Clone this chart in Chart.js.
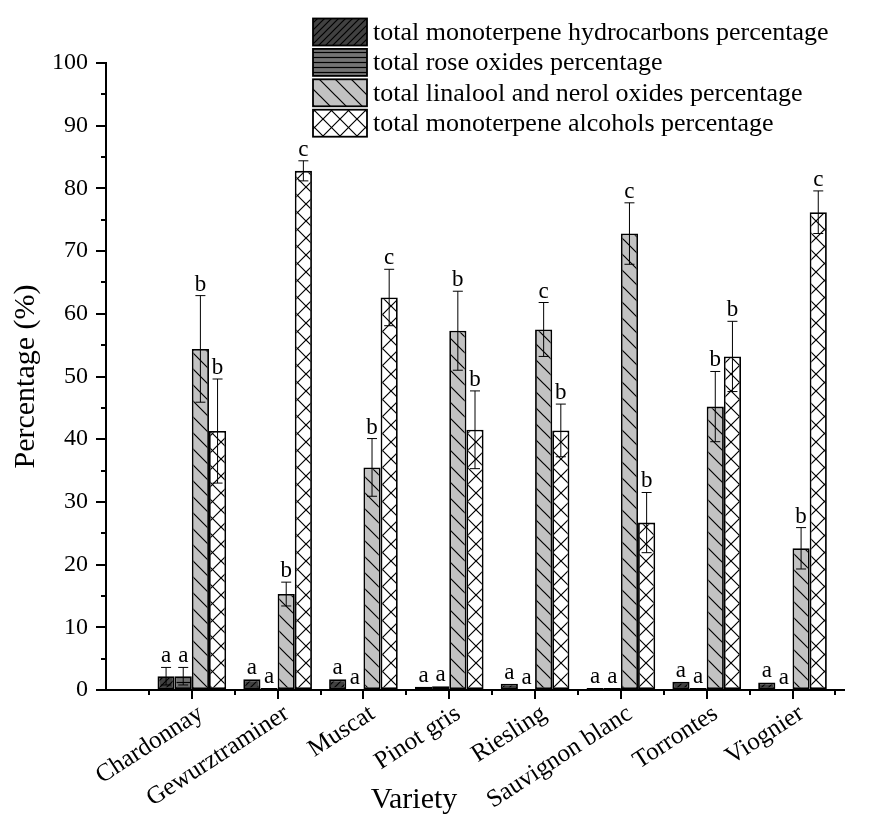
<!DOCTYPE html>
<html>
<head>
<meta charset="utf-8">
<script src="https://cdn.jsdelivr.net/npm/chart.js@4.4.1/dist/chart.umd.min.js"></script>
<style>
html,body{margin:0;padding:0;background:#fff;}
#wrap{width:874px;height:819px;}
</style>
</head>
<body>
<div id="wrap"><canvas id="c" width="874" height="819"></canvas></div>
<script>
// ---------- data ----------
const categories = ["Chardonnay","Gewurztraminer","Muscat","Pinot gris","Riesling","Sauvignon blanc","Torrontes","Viognier"];
const seriesNames = [
  "total monoterpene hydrocarbons percentage",
  "total rose oxides percentage",
  "total linalool and nerol oxides percentage",
  "total monoterpene alcohols percentage"
];
const hydrocarbons      = [2.2, 1.7, 1.7, 0.5, 1.0, 0.3, 1.3, 1.2];
const hydrocarbonsErr   = [1.4, 0, 0, 0, 0, 0, 0, 0];
const hydrocarbonsSig   = ["a","a","a","a","a","a","a","a"];
const roseOxides        = [2.2, 0.3, 0.1, 0.6, 0.1, 0.3, 0.3, 0.1];
const roseOxidesErr     = [1.4, 0, 0, 0, 0, 0, 0, 0];
const roseOxidesSig     = ["a","a","a","a","a","a","a","a"];
const linaloolOxides    = [54.4, 15.3, 35.5, 57.3, 57.5, 72.8, 45.2, 22.6];
const linaloolOxidesErr = [8.5, 1.9, 4.6, 6.3, 4.3, 4.9, 5.6, 3.3];
const linaloolOxidesSig = ["b","b","b","b","c","c","b","b"];
const alcohols          = [41.3, 82.8, 62.6, 41.5, 41.4, 26.7, 53.2, 76.2];
const alcoholsErr       = [8.3, 1.6, 4.5, 6.2, 4.2, 4.8, 5.6, 3.4];
const alcoholsSig       = ["b","c","c","b","b","b","b","c"];
const yTickValues = [0,10,20,30,40,50,60,70,80,90,100];

// ---------- patterns ----------
function makePattern(bg, size, draw) {
  const c = document.createElement('canvas');
  c.width = size; c.height = size;
  const g = c.getContext('2d');
  g.fillStyle = bg; g.fillRect(0, 0, size, size);
  g.strokeStyle = '#000'; g.lineWidth = 1.2;
  draw(g, size);
  return g.createPattern(c, 'repeat');
}
function slash(g, s) {
  g.beginPath();
  g.moveTo(-1, s + 1); g.lineTo(s + 1, -1);
  g.moveTo(-1, 1); g.lineTo(1, -1);
  g.moveTo(s - 1, s + 1); g.lineTo(s + 1, s - 1);
  g.stroke();
}
function backslash(g, s) {
  g.beginPath();
  g.moveTo(-1, -1); g.lineTo(s + 1, s + 1);
  g.moveTo(s - 1, -1); g.lineTo(s + 1, 1);
  g.moveTo(-1, s - 1); g.lineTo(1, s + 1);
  g.stroke();
}
function horiz(g, s) {
  g.beginPath(); g.moveTo(0, s / 2); g.lineTo(s, s / 2); g.stroke();
}
const patterns = [
  makePattern('#414141', 7, slash),
  makePattern('#747474', 5, horiz),
  makePattern('#c2c2c2', 16, backslash),
  makePattern('#ffffff', 17, (g, s) => { backslash(g, s); slash(g, s); })
];

const valueSets = [hydrocarbons, roseOxides, linaloolOxides, alcohols];
const errSets = [hydrocarbonsErr, roseOxidesErr, linaloolOxidesErr, alcoholsErr];
const sigSets = [hydrocarbonsSig, roseOxidesSig, linaloolOxidesSig, alcoholsSig];

const FONT = '"Liberation Serif", "Times New Roman", serif';
Chart.defaults.font.family = FONT;
Chart.defaults.color = '#000';

const datasets = seriesNames.map((name, k) => ({
  label: name,
  data: valueSets[k].map((v, i) => ({ x: i + 1, y: v })),
  backgroundColor: patterns[k],
  borderColor: '#000',
  borderWidth: 1.8,
  borderSkipped: false,
  errors: errSets[k],
  letters: sigSets[k]
}));

const decorPlugin = {
  id: 'decor',
  afterDatasetsDraw(chart) {
    const ctx = chart.ctx;
    const ys = chart.scales.y;
    ctx.save();
    chart.data.datasets.forEach((ds, di) => {
      const meta = chart.getDatasetMeta(di);
      meta.data.forEach((bar, i) => {
        const v = ds.data[i].y, e = ds.errors[i];
        const x = bar.x;
        const yTop = ys.getPixelForValue(v + e);
        if (e > 0) {
          const yBot = ys.getPixelForValue(v - e);
          ctx.strokeStyle = '#000'; ctx.lineWidth = 1;
          ctx.beginPath();
          ctx.moveTo(x, yBot); ctx.lineTo(x, yTop);
          ctx.moveTo(x - 5, yTop); ctx.lineTo(x + 5, yTop);
          ctx.moveTo(x - 5, yBot); ctx.lineTo(x + 5, yBot);
          ctx.stroke();
        }
        ctx.fillStyle = '#000';
        ctx.font = '23px ' + FONT;
        ctx.textAlign = 'center';
        ctx.textBaseline = 'alphabetic';
        ctx.fillText(ds.letters[i], x, yTop - 5);
      });
    });
    ctx.restore();
  },
  afterDraw(chart) {
    const ctx = chart.ctx;
    const xs = chart.scales.x, ys = chart.scales.y;
    const area = chart.chartArea;
    ctx.save();
    // minor ticks
    ctx.strokeStyle = '#000'; ctx.lineWidth = 2;
    ctx.beginPath();
    for (let v = 5; v < 100; v += 10) {
      const py = Math.round(ys.getPixelForValue(v));
      ctx.moveTo(area.left - 5, py); ctx.lineTo(area.left, py);
    }
    for (let i = 0; i <= categories.length; i++) {
      const px = Math.round(xs.getPixelForValue(i + 0.5));
      ctx.moveTo(px, area.bottom); ctx.lineTo(px, area.bottom + 5);
    }
    ctx.stroke();
    // legend
    const lx = 313, bw = 54, bh = 27, step = 30.4, cy0 = 32;
    ctx.font = '26px ' + FONT;
    ctx.textAlign = 'left';
    ctx.textBaseline = 'middle';
    chart.data.datasets.forEach((ds, k) => {
      const cy = cy0 + k * step;
      ctx.fillStyle = ds.backgroundColor;
      ctx.fillRect(lx, cy - bh / 2, bw, bh);
      ctx.strokeStyle = '#000'; ctx.lineWidth = 1.8;
      ctx.strokeRect(lx, cy - bh / 2, bw, bh);
      ctx.fillStyle = '#000';
      ctx.fillText(ds.label, lx + bw + 6, cy + 1);
    });
    // x title
    ctx.font = '30px ' + FONT;
    ctx.textAlign = 'center';
    ctx.textBaseline = 'middle';
    ctx.fillText('Variety', 414, 800);
    ctx.restore();
  }
};

new Chart(document.getElementById('c').getContext('2d'), {
  type: 'bar',
  data: { datasets },
  options: {
    responsive: false,
    animation: false,
    events: [],
    layout: { padding: { top: 63, right: 30, bottom: 0, left: 0 } },
    plugins: { legend: { display: false }, tooltip: { enabled: false } },
    datasets: { bar: { categoryPercentage: 0.8, barPercentage: 1.0 } },
    scales: {
      x: {
        type: 'linear',
        min: 0, max: 8.6,
        offset: false,
        afterBuildTicks: (s) => { s.ticks = categories.map((c, i) => ({ value: i + 1 })); },
        afterFit: (s) => { s.height = 129; },
        ticks: {
          autoSkip: false, minRotation: 33, maxRotation: 33, padding: 0, labelOffset: 9,
          font: { size: 25 }, color: '#000',
          callback: (v) => categories[v - 1]
        },
        grid: { drawOnChartArea: false, drawTicks: true, tickLength: 9, color: '#000', lineWidth: 2, offset: false },
        border: { display: true, color: '#000', width: 2 }
      },
      y: {
        min: 0, max: 100,
        afterBuildTicks: (s) => { s.ticks = yTickValues.map(v => ({ value: v })); },
        afterFit: (s) => { s.width = 106; },
        ticks: { font: { size: 24 }, color: '#000', padding: 8 },
        grid: { drawOnChartArea: false, drawTicks: true, tickLength: 10, color: '#000', lineWidth: 2 },
        border: { display: true, color: '#000', width: 2 },
        title: { display: true, text: 'Percentage (%)', font: { size: 30 }, color: '#000', padding: { top: 8, bottom: 0 } }
      }
    }
  },
  plugins: [decorPlugin]
});
</script>
</body>
</html>
